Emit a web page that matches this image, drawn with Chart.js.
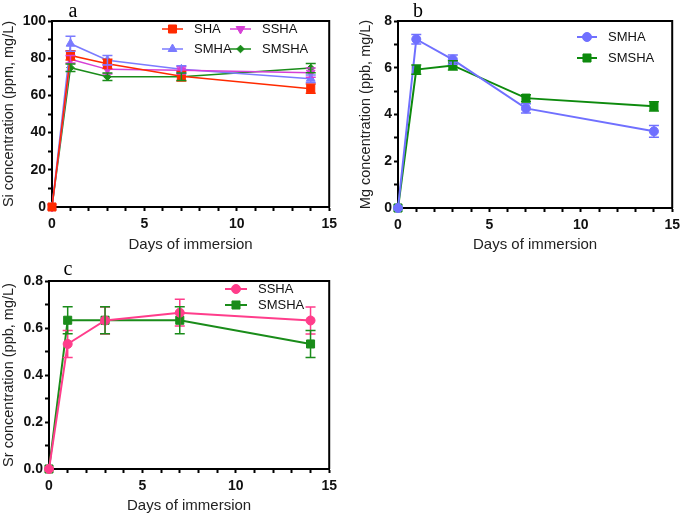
<!DOCTYPE html>
<html>
<head>
<meta charset="utf-8">
<script src="https://cdn.jsdelivr.net/npm/chart.js@4.4.1/dist/chart.umd.min.js"></script>
<style>
  body { margin: 0; background: #fff; width: 685px; height: 516px; position: relative; overflow: hidden; }
  canvas { position: absolute; }
</style>
</head>
<body>
<canvas id="chartA" width="342" height="258" style="left:0;top:0"></canvas>
<canvas id="chartB" width="343" height="258" style="left:342px;top:0"></canvas>
<canvas id="chartC" width="342" height="258" style="left:0;top:258px"></canvas>
<script>
// dias de imersao (eixo x comum)
const days = [0, 1, 3, 7, 14];
const xMajor = [0, 5, 10, 15];
const xMinor = [1, 2, 3, 4, 6, 7, 8, 9, 11, 12, 13, 14];

// painel a - Si (ppm, mg/L)
const siSHA = [0, 81.5, 77, 70.3, 63.6];
const siSHAerr = [0, 2.5, 2.5, 2.5, 2.5];
const siSSHA = [0, 79.4, 74, 73.5, 72.2];
const siSSHAerr = [0, 2, 2.5, 2, 2.5];
const siSMHA = [0, 87.8, 78.9, 74, 69];
const siSMHAerr = [0, 4, 2.5, 2, 2];
const siSMSHA = [0, 74.9, 70, 70, 74.7];
const siSMSHAerr = [0, 2, 2, 2, 2.5];
const siMajor = [0, 20, 40, 60, 80, 100];
const siMinor = [10, 30, 50, 70, 90];

// painel b - Mg (ppb, mg/L)
const mgSMHA = [0, 7.22, 6.35, 4.26, 3.28];
const mgSMHAerr = [0, 0.2, 0.2, 0.2, 0.25];
const mgSMSHA = [0, 5.92, 6.1, 4.7, 4.35];
const mgSMSHAerr = [0, 0.2, 0.2, 0.15, 0.2];
const mgMajor = [0, 2, 4, 6, 8];
const mgMinor = [1, 3, 5, 7];

// painel c - Sr (ppb, mg/L)
const srSSHA = [0, 0.532, 0.632, 0.665, 0.632];
const srSSHAerr = [0, 0.057, 0.057, 0.057, 0.057];
const srSMSHA = [0, 0.633, 0.633, 0.633, 0.532];
const srSMSHAerr = [0, 0.057, 0.057, 0.057, 0.057];
const srMajor = [0, 0.2, 0.4, 0.6, 0.8];
const srMinor = [0.1, 0.3, 0.5, 0.7];

Chart.defaults.font.family = '"Liberation Sans", Arial, sans-serif';
Chart.defaults.color = '#111';

function pts(ys) {
  return days.map((d, i) => ({ x: d, y: ys[i] }));
}

function serie(label, ys, errs, color, style, radius, width, rot) {
  return {
    label: label,
    data: pts(ys),
    errors: errs,
    borderColor: color,
    backgroundColor: color,
    borderWidth: width,
    pointStyle: style,
    pointRotation: rot || 0,
    pointRadius: radius,
    pointBorderWidth: 1,
    clip: false,
    tension: 0
  };
}

// barras de erro desenhadas com as escalas do grafico
const errorBars = {
  id: 'errorBars',
  afterDatasetsDraw(chart) {
    const ctx = chart.ctx;
    const xs = chart.scales.x, ys = chart.scales.y;
    chart.data.datasets.forEach(ds => {
      if (!ds.errors) return;
      ctx.save();
      ctx.strokeStyle = ds.borderColor;
      ctx.lineWidth = 1.5;
      ds.data.forEach((p, j) => {
        const e = ds.errors[j];
        if (!e) return;
        const x = xs.getPixelForValue(p.x);
        const y1 = ys.getPixelForValue(p.y - e);
        const y2 = ys.getPixelForValue(p.y + e);
        ctx.beginPath();
        ctx.moveTo(x, y1); ctx.lineTo(x, y2);
        ctx.moveTo(x - 5, y1); ctx.lineTo(x + 5, y1);
        ctx.moveTo(x - 5, y2); ctx.lineTo(x + 5, y2);
        ctx.stroke();
      });
      ctx.restore();
    });
  }
};

// caixa (bordas superior e direita), legenda com linha + marcador, letra do painel
const frame = {
  id: 'frame',
  afterDraw(chart, args, opts) {
    const ctx = chart.ctx;
    const a = chart.chartArea;
    ctx.save();
    ctx.strokeStyle = '#000';
    ctx.lineWidth = 2;
    ctx.beginPath();
    ctx.moveTo(a.left, a.top); ctx.lineTo(a.right, a.top); ctx.lineTo(a.right, a.bottom);
    ctx.stroke();

    // legenda
    ctx.font = '13px "Liberation Sans", Arial, sans-serif';
    ctx.textBaseline = 'middle';
    ctx.textAlign = 'left';
    (opts.entries || []).forEach((en, i) => {
      const ds = chart.data.datasets[i];
      const x0 = a.left + en.x, y0 = a.top + en.y;
      ctx.strokeStyle = ds.borderColor;
      ctx.fillStyle = ds.backgroundColor;
      ctx.lineWidth = ds.borderWidth;
      ctx.beginPath();
      ctx.moveTo(x0, y0); ctx.lineTo(x0 + opts.lineLen, y0);
      ctx.stroke();
      ctx.lineWidth = 1;
      Chart.helpers.drawPoint(ctx, {
        pointStyle: ds.pointStyle, rotation: ds.pointRotation,
        radius: ds.pointRadius, borderWidth: 1
      }, x0 + opts.lineLen / 2, y0);
      ctx.fillStyle = '#111';
      ctx.fillText(ds.label, x0 + opts.lineLen + 11, y0);
    });

    // letra
    ctx.font = '20px "Liberation Serif", "Times New Roman", serif';
    ctx.fillStyle = '#000';
    ctx.textAlign = 'center';
    ctx.fillText(opts.letter, opts.letterX, opts.letterY);
    ctx.restore();
  }
};

function makeChart(id, datasets, cfg) {
  const fmtY = cfg.fmt || (v => String(v));
  return new Chart(document.getElementById(id), {
    type: 'line',
    data: { datasets: datasets },
    plugins: [errorBars, frame],
    options: {
      responsive: false,
      animation: false,
      layout: { padding: { left: cfg.padLeft, top: cfg.top, right: cfg.padRight, bottom: 0 } },
      plugins: {
        legend: { display: false },
        tooltip: { enabled: false },
        frame: { entries: cfg.legend, lineLen: cfg.lineLen, letter: cfg.letter, letterX: cfg.letterX, letterY: 12 }
      },
      scales: {
        x: {
          type: 'linear', min: 0, max: 15,
          afterBuildTicks: s => { s.ticks = xMajor.concat(xMinor).sort((p, q) => p - q).map(v => ({ value: v })); },
          afterFit: s => { s.height = cfg.xHeight; },
          ticks: {
            autoSkip: false, maxRotation: 0, padding: 5,
            font: { size: 14, weight: 'bold' }, color: '#111',
            callback: v => xMajor.includes(v) ? String(v) : ''
          },
          grid: { drawOnChartArea: false, drawTicks: true, tickLength: 4, tickWidth: 2, tickColor: '#000' },
          border: { display: true, color: '#000', width: 2 },
          title: { display: true, text: 'Days of immersion', font: { size: 15 }, color: '#222', padding: { top: 0, bottom: cfg.xTitlePad } }
        },
        y: {
          type: 'linear', min: cfg.yMajor[0], max: cfg.yMajor[cfg.yMajor.length - 1],
          afterBuildTicks: s => { s.ticks = cfg.yMajor.concat(cfg.yMinor).sort((p, q) => p - q).map(v => ({ value: v })); },
          afterFit: s => { s.width = cfg.yWidth; },
          ticks: {
            autoSkip: false, padding: 2,
            font: { size: 14, weight: 'bold' }, color: '#111',
            callback: v => cfg.yMajor.some(m => Math.abs(m - v) < 1e-9) ? fmtY(v) : ''
          },
          grid: { drawOnChartArea: false, drawTicks: true, tickLength: 4, tickWidth: 2, tickColor: '#000' },
          border: { display: true, color: '#000', width: 2 },
          title: { display: true, text: cfg.yTitle, font: { size: 14.5 }, color: '#222', padding: { top: 0, bottom: 0 } }
        }
      }
    }
  });
}

makeChart('chartA', [
  serie('SHA', siSHA, siSHAerr, '#ff2a00', 'rect', 5.7, 1.5),
  serie('SSHA', siSSHA, siSSHAerr, '#d63fd6', 'triangle', 5, 1.5, 180),
  serie('SMHA', siSMHA, siSMHAerr, '#7b7bff', 'triangle', 5, 1.5),
  serie('SMSHA', siSMSHA, siSMSHAerr, '#1a8c1a', 'rectRot', 3.8, 1.5)
], {
  padLeft: 0, padRight: 9, top: 21, yWidth: 52, xHeight: 51, xTitlePad: 4,
  yMajor: siMajor, yMinor: siMinor, yTitle: 'Si concentration (ppm, mg/L)',
  legend: [{ x: 110, y: 8 }, { x: 178, y: 8 }, { x: 110, y: 28 }, { x: 178, y: 28 }],
  lineLen: 21, letter: 'a', letterX: 73
});

makeChart('chartB', [
  serie('SMHA', mgSMHA, mgSMHAerr, '#7070ff', 'circle', 4.5, 2),
  serie('SMSHA', mgSMSHA, mgSMSHAerr, '#0d8a0d', 'rect', 5.7, 2)
], {
  padLeft: 15, padRight: 7, top: 21, yWidth: 41, xHeight: 50, xTitlePad: 4,
  yMajor: mgMajor, yMinor: mgMinor, yTitle: 'Mg concentration (ppb, mg/L)',
  legend: [{ x: 179, y: 16 }, { x: 179, y: 37 }],
  lineLen: 20, letter: 'b', letterX: 76
});

makeChart('chartC', [
  serie('SSHA', srSSHA, srSSHAerr, '#ff3d8b', 'circle', 4.5, 2),
  serie('SMSHA', srSMSHA, srSMSHAerr, '#1a8c1a', 'rect', 5.7, 2)
], {
  padLeft: 0, padRight: 10, top: 23, yWidth: 49, xHeight: 47, xTitlePad: 1,
  yMajor: srMajor, yMinor: srMinor, yTitle: 'Sr concentration (ppb, mg/L)',
  fmt: v => v.toFixed(1),
  legend: [{ x: 176, y: 8 }, { x: 176, y: 24 }],
  lineLen: 22, letter: 'c', letterX: 68
});
</script>
</body>
</html>
